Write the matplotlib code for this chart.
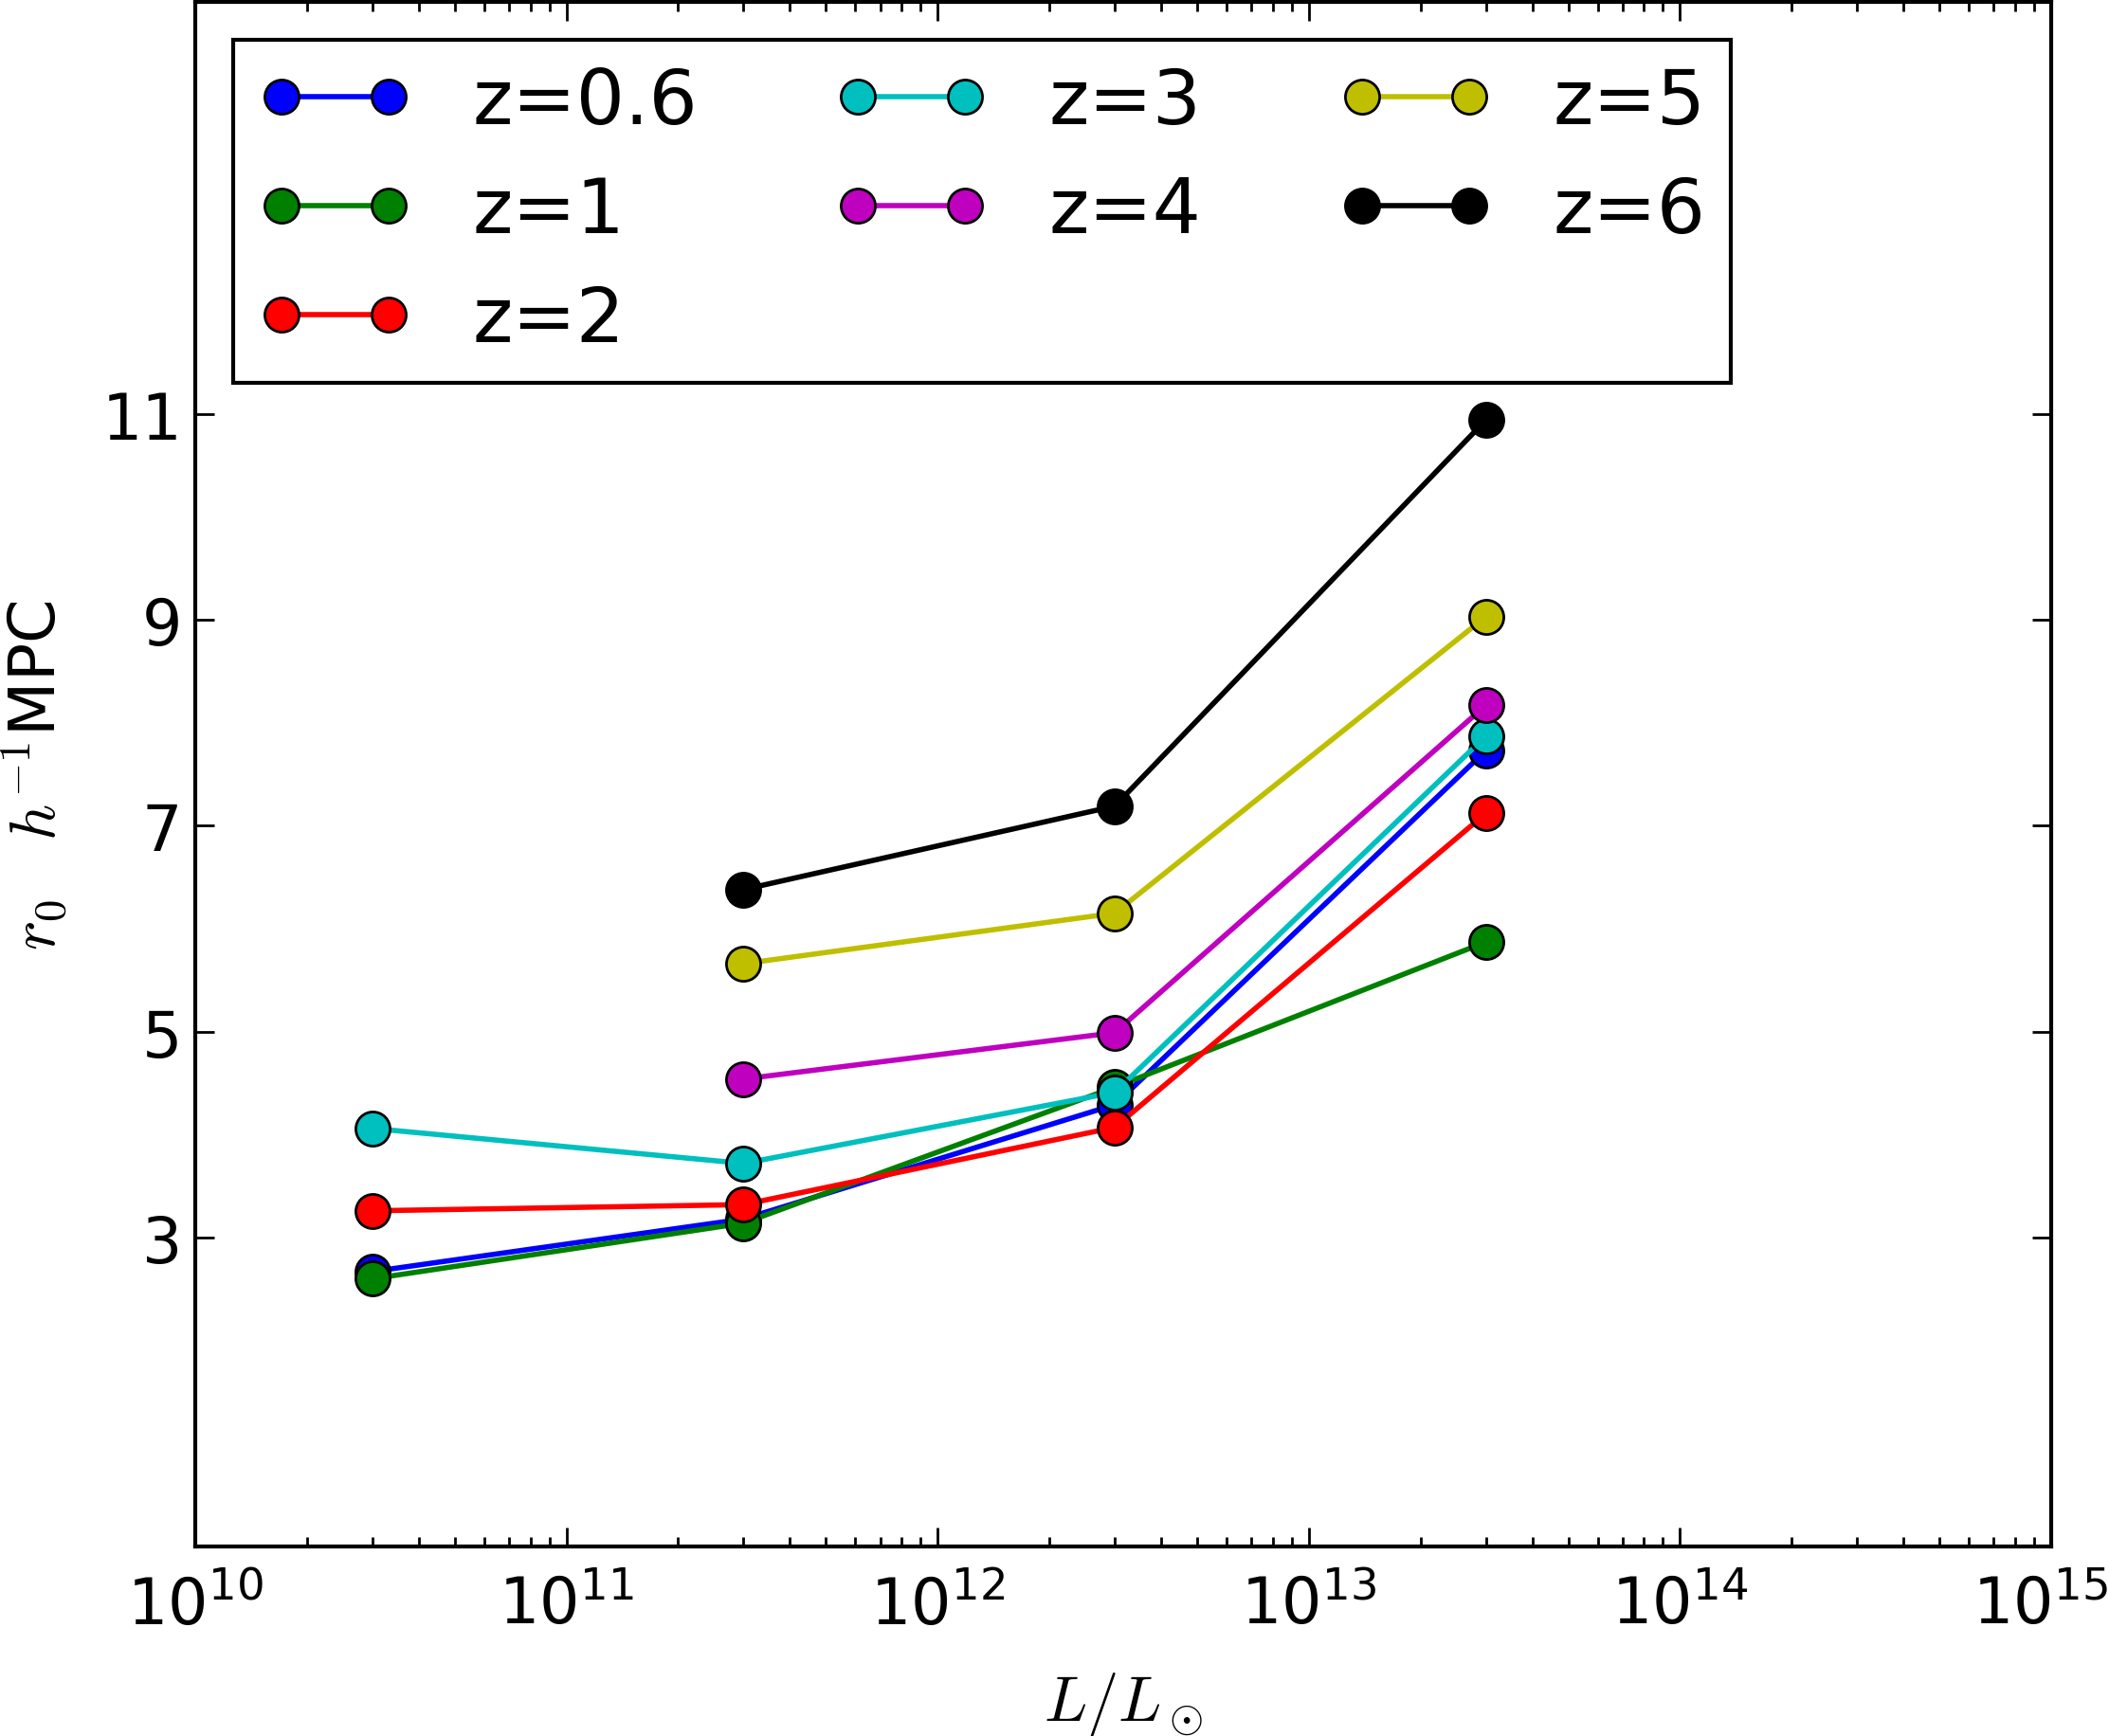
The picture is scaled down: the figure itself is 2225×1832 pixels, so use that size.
import numpy as np
import matplotlib
matplotlib.use("Agg")
import matplotlib.pyplot as plt
from matplotlib.transforms import ScaledTranslation

plt.rcParams['font.family'] = ['DejaVu Sans']
plt.rcParams['mathtext.fontset'] = 'cm'

# luminosity bins (L/Lsun)
lum = [3e10, 3e11, 3e12, 3e13]

# r0 [h^-1 Mpc] per redshift
r0_z06 = [2.67, 3.18, 4.29, 7.73]
r0_z1 = [2.60, 3.14, 4.46, 5.87]
r0_z2 = [3.26, 3.32, 4.07, 7.12]
r0_z3 = [4.06, 3.72, 4.41, 7.87]
r0_z4 = [4.54, 4.99, 8.17]
r0_z5 = [5.66, 6.15, 9.03]
r0_z6 = [6.38, 7.19, 10.94]

labels = ["z=0.6", "z=1", "z=2", "z=3", "z=4", "z=5", "z=6"]
colors = [(0, 0, 1), (0, 0.5, 0), (1, 0, 0), (0, 0.75, 0.75),
          (0.75, 0, 0.75), (0.75, 0.75, 0), (0, 0, 0)]
series = [r0_z06, r0_z1, r0_z2, r0_z3, r0_z4, r0_z5, r0_z6]

fig = plt.figure(figsize=(11.125, 9.165), dpi=200)
ax = fig.add_axes([206/2225, 1 - 1633/1833, 1958/2225, 1630/1833])

for y, lab, c in zip(series, labels, colors):
    x = lum[-len(y):]
    ax.plot(x, y, '-o', color=c, lw=2.0, ms=13, mec='k', mew=1.0, label=lab)

ax.set_xscale('log')
ax.set_xlim(1e10, 1e15)
ax.set_ylim(0, 15)
ax.set_yticks([3, 5, 7, 9, 11])

for s in ax.spines.values():
    s.set_linewidth(1.5)
ax.tick_params(which='both', direction='in', top=True, right=True, labelsize=24)
ax.tick_params(which='major', length=7.2, width=1.0)
ax.tick_params(which='minor', length=3.6, width=1.0)
ax.tick_params(axis='x', pad=10.5)
ax.tick_params(axis='y', pad=5)

ax.set_xlabel(r'$L/L_\odot$', fontsize=24, labelpad=12.5)
ax.set_ylabel(r'$r_0\quad h^{-1}$MPC', fontsize=24, labelpad=12)

leg = ax.legend(loc='upper left', ncol=3, numpoints=2, fontsize=29,
                columnspacing=1.8, labelspacing=0.46, borderpad=0.33,
                fancybox=False, framealpha=1, edgecolor='k')
leg.get_frame().set_linewidth(1.5)

# nudge the 10^15 label so it stays inside the figure
fig.canvas.draw()
for tick in ax.xaxis.get_major_ticks():
    if np.isclose(tick.get_loc(), 1e15):
        lbl = tick.label1
        lbl.set_transform(lbl.get_transform() + ScaledTranslation(-12/200, 0, fig.dpi_scale_trans))

fig.savefig('out.png', dpi=200)
